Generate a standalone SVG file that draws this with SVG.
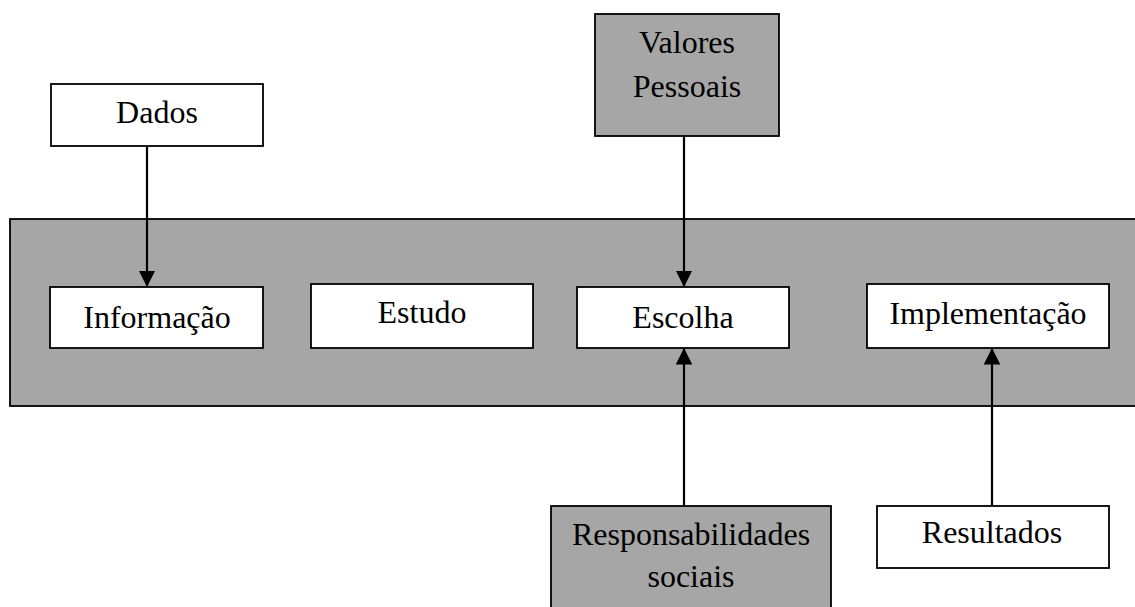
<svg xmlns="http://www.w3.org/2000/svg" width="1135" height="607" viewBox="0 0 1135 607">
<style>
.w{fill:#fff;stroke:#000;stroke-width:1.8}
.g{fill:#a6a6a6;stroke:#000;stroke-width:1.8}
text{font-family:"Liberation Serif","Times New Roman",serif;font-size:32px;fill:#000;text-anchor:middle}
.c{stroke:#000;stroke-width:2.2;fill:none}
</style>
<defs>
<marker id="ah" viewBox="0 0 10 10" refX="10" refY="5" markerWidth="7.5" markerHeight="7.5" markerUnits="strokeWidth" orient="auto">
<path d="M0,0 L10,5 L0,10 Z" fill="#000"/>
</marker>
</defs>
<g id="container"><rect class="g" x="10" y="219" width="1135" height="187"/></g>
<g id="dados"><rect class="w" x="51" y="84" width="212" height="62"/><text x="157" y="123">Dados</text></g>
<g id="valores"><rect class="g" x="595" y="14" width="184" height="122"/><text x="687" y="53">Valores</text><text x="687" y="97">Pessoais</text></g>
<g id="informacao"><rect class="w" x="50" y="287" width="213" height="61"/><text x="157" y="328">Informação</text></g>
<g id="estudo"><rect class="w" x="311" y="284" width="222" height="64"/><text x="422" y="323">Estudo</text></g>
<g id="escolha"><rect class="w" x="577" y="287" width="212" height="61"/><text x="683" y="328">Escolha</text></g>
<g id="implementacao"><rect class="w" x="867" y="284" width="242" height="64"/><text x="988" y="324">Implementação</text></g>
<g id="responsabilidades"><rect class="g" x="551" y="506" width="280" height="110"/><text x="691" y="545">Responsabilidades</text><text x="691" y="587">sociais</text></g>
<g id="resultados"><rect class="w" x="877" y="506" width="232" height="62"/><text x="992" y="543">Resultados</text></g>
<g id="connectors">
<line class="c" x1="147" y1="146" x2="147" y2="287" marker-end="url(#ah)"/>
<line class="c" x1="684" y1="136" x2="684" y2="287" marker-end="url(#ah)"/>
<line class="c" x1="684" y1="506" x2="684" y2="348" marker-end="url(#ah)"/>
<line class="c" x1="992" y1="506" x2="992" y2="348" marker-end="url(#ah)"/>
</g>
</svg>
